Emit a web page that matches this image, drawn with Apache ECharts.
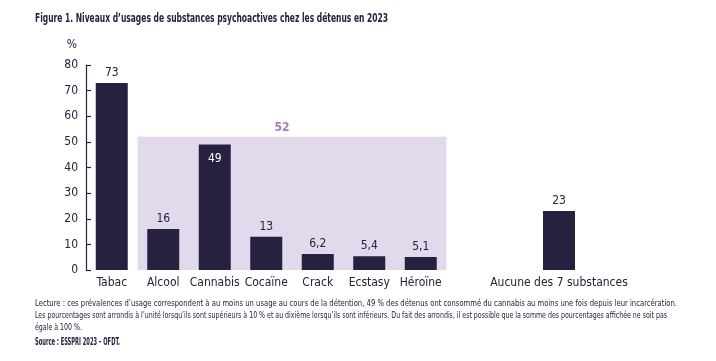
<!DOCTYPE html>
<html><head><meta charset="utf-8">
<script src="https://cdn.jsdelivr.net/npm/echarts@6/dist/echarts.min.js"></script>
<style>html,body{margin:0;padding:0;background:#fff}#c{width:716px;height:361px}</style>
</head><body><div id="c"></div>
<script>
const categories = ['Tabac','Alcool','Cannabis','Cocaïne','Crack','Ecstasy','Héroïne'];
const values = [73,16,49,13,6.2,5.4,5.1];
const noneCategory = ['Aucune des 7 substances'];
const noneValues = [23];
const illicitGroup = ['Alcool','Héroïne'];
const illicitValue = 52;
const insideLabelCategory = 'Cannabis';
const yMin = 0, yMax = 80, yStep = 10;

const FONT = '"Liberation Sans Narrow","DejaVu Sans Condensed","Liberation Sans",sans-serif';
const NAVY = '#25213f';
const fmt = v => String(v).replace('.', ',');

const titleText = 'Figure 1. Niveaux d\u2019usages de substances psychoactives chez les détenus en 2023';
const noteLines = [
  'Lecture : ces prévalences d\u2019usage correspondent à au moins un usage au cours de la détention, 49 % des détenus ont consommé du cannabis au moins une fois depuis leur incarcération.',
  'Les pourcentages sont arrondis à l\u2019unité lorsqu\u2019ils sont supérieurs à 10 % et au dixième lorsqu\u2019ils sont inférieurs. Du fait des arrondis, il est possible que la somme des pourcentages affichée ne soit pas',
  'égale à 100 %.'
];
const sourceText = 'Source : ESSPRI 2023 \u2013 OFDT.';

// fit text horizontally to a target width (condensed look)
const mctx = document.createElement('canvas').getContext('2d');
function fitScale(text, font, target){ mctx.font = font; return target / mctx.measureText(text).width; }
const TITLE_FONT = 'bold 13px ' + FONT;
const NOTE_FONT = '9.5px ' + FONT;
const SRC_FONT = 'bold 10.5px ' + FONT;
const sTitle = fitScale(titleText, TITLE_FONT, 353);
const s1 = fitScale(noteLines[0], NOTE_FONT, 642);
const s2 = fitScale(noteLines[1], NOTE_FONT, 632);
const sSrc = fitScale(sourceText, SRC_FONT, 85);

const barData = values.map((v, i) => categories[i] === insideLabelCategory
  ? {value: v, label: {position: 'insideTop', distance: 8, color: '#ffffff'}}
  : v);

const chart = echarts.init(document.getElementById('c'), null, {renderer:'canvas'});
chart.setOption({
  animation:false,
  textStyle:{fontFamily:FONT},
  graphic:[
    {type:'text', x:35, y:12, scaleX:sTitle, silent:true,
     style:{text:titleText, font:TITLE_FONT, fill:NAVY, verticalAlign:'top'}},
    {type:'text', x:35, y:299, scaleX:s1, silent:true,
     style:{text:noteLines[0], font:NOTE_FONT, fill:NAVY, verticalAlign:'top'}},
    {type:'text', x:35, y:311, scaleX:s2, silent:true,
     style:{text:noteLines[1], font:NOTE_FONT, fill:NAVY, verticalAlign:'top'}},
    {type:'text', x:35, y:323, scaleX:s2, silent:true,
     style:{text:noteLines[2], font:NOTE_FONT, fill:NAVY, verticalAlign:'top'}},
    {type:'text', x:35, y:337, scaleX:sSrc, silent:true,
     style:{text:sourceText, font:SRC_FONT, fill:NAVY, verticalAlign:'top'}}
  ],
  grid:[
    {left:86, width:360.5, top:65, bottom:91, containLabel:false},
    {left:533, width:52, top:65, bottom:91, containLabel:false}
  ],
  xAxis:[
    {type:'category', gridIndex:0, data:categories, axisLine:{show:false}, axisTick:{show:false},
     axisLabel:{fontFamily:FONT, fontSize:12, color:NAVY, margin:7, interval:0}},
    {type:'category', gridIndex:1, data:noneCategory, axisLine:{show:false}, axisTick:{show:false},
     axisLabel:{fontFamily:FONT, fontSize:12, color:NAVY, margin:7, interval:0}},
    {type:'value', gridIndex:0, min:0, max:categories.length, show:false, splitLine:{show:false}}
  ],
  yAxis:[
    {type:'value', gridIndex:0, min:yMin, max:yMax, interval:yStep, name:'%', nameLocation:'end', nameGap:14,
     nameTextStyle:{fontFamily:FONT, fontSize:12, color:NAVY, align:'right', padding:[0,9,0,0]},
     axisLine:{show:true, lineStyle:{color:NAVY, width:1.2}},
     axisTick:{show:true, inside:true, length:5, lineStyle:{color:NAVY, width:1.2}},
     splitLine:{show:false},
     axisLabel:{fontFamily:FONT, fontSize:12, color:NAVY, margin:8}},
    {type:'value', gridIndex:1, min:yMin, max:yMax, interval:yStep, show:false, splitLine:{show:false}}
  ],
  series:[
    {type:'line', xAxisIndex:2, yAxisIndex:0, data:[], silent:true, z:1,
     markArea:{silent:true, itemStyle:{color:'#e3d9ec'},
       label:{show:true, position:'top', distance:3, offset:[-10,0], fontFamily:FONT, fontSize:12, fontWeight:'bold', color:'#a77dc0', formatter:()=>String(illicitValue)},
       data:[[{xAxis:categories.indexOf(illicitGroup[0]), yAxis:0},{xAxis:categories.indexOf(illicitGroup[1])+1, yAxis:illicitValue}]]}},
    {type:'bar', xAxisIndex:0, yAxisIndex:0, data:barData, barWidth:32, z:3, itemStyle:{color:NAVY},
     label:{show:true, position:'top', distance:4, formatter:p=>fmt(p.value), fontFamily:FONT, fontSize:12, color:NAVY}},
    {type:'bar', xAxisIndex:1, yAxisIndex:1, data:noneValues, barWidth:32, z:3, itemStyle:{color:NAVY},
     label:{show:true, position:'top', distance:4, formatter:p=>fmt(p.value), fontFamily:FONT, fontSize:12, color:NAVY}}
  ]
});
</script></body></html>
